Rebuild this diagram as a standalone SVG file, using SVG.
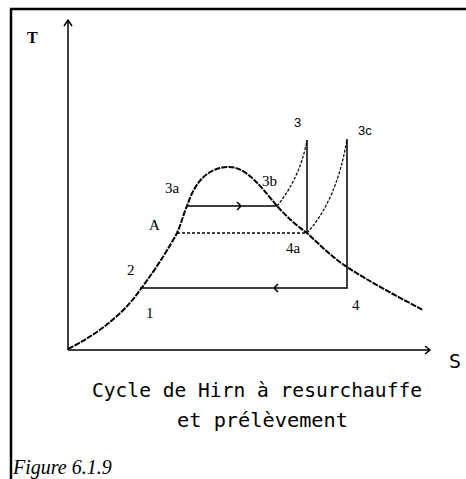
<svg xmlns="http://www.w3.org/2000/svg" width="466" height="479" viewBox="0 0 466 479">
<style>
.frame{stroke:#000;stroke-width:2.5;fill:none}
.axis{stroke:#000;stroke-width:1.5;fill:none}
.dome{stroke:#000;stroke-width:2;fill:none;stroke-dasharray:6 1.2}
.ln{stroke:#000;stroke-width:1.5;fill:none}
.thin{stroke:#000;stroke-width:1.2;fill:none;stroke-dasharray:3 1.5}
.dash{stroke:#000;stroke-width:1.5;fill:none;stroke-dasharray:3 2}
.lbl{font-family:"Liberation Serif",serif;font-size:15px;fill:#000}
.lbs{font-family:"Liberation Sans",sans-serif;font-size:13px;fill:#000}
.cap{font-family:"DejaVu Sans Mono",monospace;font-size:20px;fill:#000}
</style>
<rect width="466" height="479" fill="#fff"/>
<g id="frame">
<path class="frame" d="M10,9 H466 M11,9 V479"/>
</g>
<g id="axes">
<path class="axis" d="M68,350 V20 M64,26 L68,20 L72,26"/>
<path class="axis" d="M68,350 H430 M425,346 L430,350 L425,354"/>
<text x="27" y="43" style="font-family:'Liberation Serif',serif;font-size:16px;font-weight:bold">T</text>
<text x="449" y="368" class="cap">S</text>
</g>
<g id="connectors">
<path id="dome" class="dome" d="M68,349 C100,333 125,312 140,290 C158,266 170,246 177,233 C182,222 184,212 187,206 C195,182 207,168 228,167 C246,166 262,188 277,206 C287,217 297,226 307,233 C320,245 333,258 347,267 C370,282 400,298 423,310"/>
<path class="ln" d="M187,206 H277 M237,202 L241,206 L237,210"/>
<path class="thin" d="M277,206 Q300,178 307,140"/>
<path class="ln" d="M307,140 V233"/>
<path class="thin" d="M307,233 Q337,200 347,139"/>
<path class="ln" d="M347,139 V288 H140 M278,284 L274,288 L278,292"/>
<path class="dash" d="M177,233 H307"/>
</g>
<g id="labels">
<text x="294" y="127" class="lbs">3</text>
<text x="358" y="135" class="lbs">3c</text>
<text x="165" y="193" class="lbl">3a</text>
<text x="262" y="186" class="lbl">3b</text>
<text x="149" y="230" class="lbl">A</text>
<text x="286" y="253" class="lbl">4a</text>
<text x="127" y="275" class="lbl">2</text>
<text x="146" y="318" class="lbl">1</text>
<text x="352" y="310" class="lbl">4</text>
</g>
<g id="caption">
<text x="92" y="397" class="cap" textLength="330" lengthAdjust="spacingAndGlyphs">Cycle de Hirn à resurchauffe</text>
<text x="177" y="427" class="cap" textLength="171" lengthAdjust="spacingAndGlyphs">et prélèvement</text>
<text x="13" y="474" style="font-family:'Liberation Serif',serif;font-size:20px;font-style:italic">Figure 6.1.9</text>
</g>
</svg>
